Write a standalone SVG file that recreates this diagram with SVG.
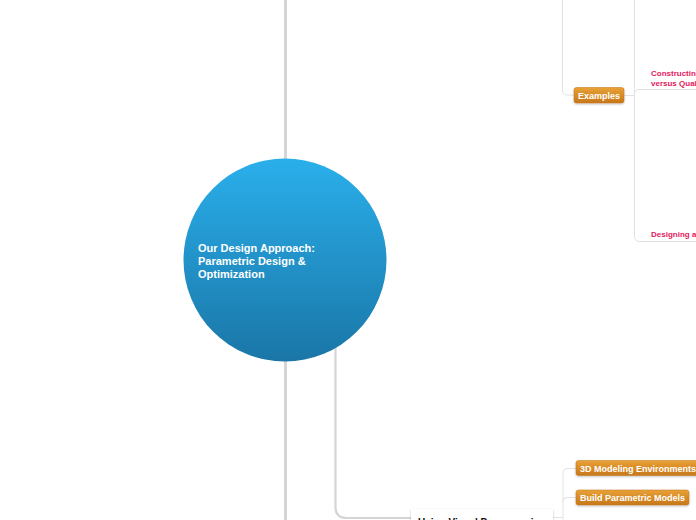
<svg xmlns="http://www.w3.org/2000/svg" width="696" height="520" viewBox="0 0 696 520">
<defs>
<linearGradient id="gCircle" x1="0" y1="0" x2="0" y2="1">
<stop offset="0" stop-color="#2aafeb"/>
<stop offset="1" stop-color="#1a76a7"/>
</linearGradient>
<linearGradient id="gOrange" x1="0" y1="0" x2="0" y2="1">
<stop offset="0" stop-color="#e9a136"/>
<stop offset="1" stop-color="#c7771a"/>
</linearGradient>
<filter id="sh" x="-10%" y="-30%" width="120%" height="160%">
<feDropShadow dx="0" dy="1" stdDeviation="0.8" flood-color="#000" flood-opacity="0.25"/>
</filter>
</defs>
<style>
.thick{fill:none;stroke:#d5d5d5;stroke-width:3}
.mid{fill:none;stroke:#d5d5d5;stroke-width:2.2}
.thin{fill:none;stroke:#e2e2e2;stroke-width:1}
.otxt{font-family:"Liberation Sans",Arial,sans-serif;font-weight:bold;font-size:9px;fill:#fff}
.ptxt{font-family:"Liberation Sans",Arial,sans-serif;font-weight:bold;font-size:8px;fill:#e3175c}
.obox{fill:url(#gOrange);stroke:#c07418;stroke-width:0.5}
</style>
<rect width="696" height="520" fill="#fff"/>
<g id="connectors">
<line class="thick" x1="285.5" y1="0" x2="285.5" y2="520"/>
<path class="mid" d="M335.5 340 V507 Q335.5 518 346.5 518 H411"/>
<path class="thin" d="M562.5 0 V90 Q562.5 95 567.5 95 H574"/>
<path class="thin" d="M624 95.5 H634.5"/>
<path class="thin" d="M634.5 0 V236 Q634.5 241.5 640 241.5 H696"/>
<path class="thin" d="M634.5 94 Q634.5 89.5 639 89.5 H696"/>
<path class="thin" d="M553 517.5 H563"/>
<path class="thin" d="M576 468.5 H568 Q563 468.5 563 473.5 V520"/>
<path class="thin" d="M563 501.5 Q563 497.5 567 497.5 H576"/>
</g>
<g id="central">
<circle cx="285" cy="260" r="101.5" fill="url(#gCircle)"/>
<text font-family="Liberation Sans,Arial,sans-serif" font-weight="bold" font-size="11" fill="#fff">
<tspan x="198" y="251.5">Our Design Approach:</tspan>
<tspan x="198" y="264.5">Parametric Design &amp;</tspan>
<tspan x="198" y="277.5">Optimization</tspan>
</text>
</g>
<g id="examples">
<rect class="obox" x="574" y="87.5" width="50" height="15.5" rx="2.5" filter="url(#sh)"/>
<text class="otxt" x="578" y="98.5">Examples</text>
</g>
<g id="constructing">
<text class="ptxt"><tspan x="651" y="76">Constructing</tspan><tspan x="651" y="85.5">versus Qual</tspan></text>
</g>
<g id="designing">
<text class="ptxt" x="651" y="237">Designing a</text>
</g>
<g id="visual-programming">
<rect x="411" y="509" width="142" height="30" fill="#fff" filter="url(#sh)"/>
<text x="418" y="525.5" font-family="Liberation Sans,Arial,sans-serif" font-weight="bold" font-size="10" fill="#111">Using Visual Programming</text>
</g>
<g id="modeling-env">
<rect class="obox" x="576" y="460.5" width="130" height="15" rx="2.5" filter="url(#sh)"/>
<text class="otxt" x="580" y="471.5">3D Modeling Environments</text>
</g>
<g id="build-models">
<rect class="obox" x="576" y="490" width="113" height="15" rx="2.5" filter="url(#sh)"/>
<text class="otxt" x="580" y="501">Build Parametric Models</text>
</g>
</svg>
